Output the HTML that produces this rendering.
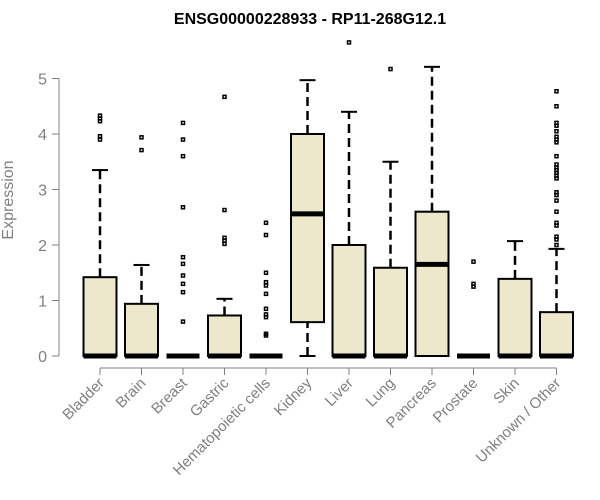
<!DOCTYPE html>
<html><head><meta charset="utf-8"><style>body{margin:0;background:#fff}svg{display:block}</style></head>
<body>
<svg id="chart" width="600" height="500" xmlns="http://www.w3.org/2000/svg" font-family="Liberation Sans, sans-serif">
<text x="310" y="24" text-anchor="middle" font-weight="bold" font-size="16">ENSG00000228933 - RP11-268G12.1</text>
<text transform="translate(13,200) rotate(-90)" text-anchor="middle" font-size="16" fill="#808080">Expression</text>
<g id="plot"></g>
</svg>
<script>
const categories=["Bladder","Brain","Breast","Gastric","Hematopoietic cells","Kidney","Liver","Lung","Pancreas","Prostate","Skin","Unknown / Other"];
const lowerWhisker=[0,0,0,0,0,0,0,0,0,0,0,0];
const q1=[0,0,0,0,0,0.61,0,0,0,0,0,0];
const median=[0,0,0,0,0,2.56,0,0,1.65,0,0,0];
const q3=[1.42,0.94,0,0.73,0,4.0,2.0,1.59,2.6,0,1.39,0.79];
const upperWhisker=[3.35,1.64,0,1.03,0,4.97,4.4,3.5,5.21,0,2.07,1.93];
const outliers=[[4.33,4.28,4.23,3.96,3.9],[3.94,3.71],[4.2,3.9,3.6,2.68,1.78,1.66,1.45,1.3,1.15,0.62],[4.67,2.63,2.13,2.08,2.02],[2.4,2.18,1.5,1.33,1.27,1.12,0.85,0.75,0.7,0.4,0.37],[],[5.65],[5.17],[],[1.7,1.3,1.25],[],[4.77,4.5,4.2,4.15,4.05,3.95,3.9,3.85,3.6,3.45,3.4,3.35,3.3,3.25,3.2,2.95,2.9,2.8,2.6,2.4,2.35,2.15,2.1,2.0]];
const yTicks=[0,1,2,3,4,5];
const NS="http://www.w3.org/2000/svg";
const g=document.getElementById("plot");
const yS=v=>356-v*55.5;
const xS=i=>100+i*41.5;
function mk(t,a,p){const e=document.createElementNS(NS,t);for(const k in a)e.setAttribute(k,a[k]);(p||g).appendChild(e);return e;}
let ya=mk("line",{x1:59,x2:59,y1:yS(0),y2:yS(5),stroke:"#808080"});


yTicks.forEach(v=>{
 let t=mk("line",{x1:52,x2:59,y1:yS(v),y2:yS(v),stroke:"#808080"});
 
 
 let l=mk("text",{x:47,y:yS(v)+6,"text-anchor":"end","font-size":16,fill:"#808080"});
 l.textContent=v;
 
 
});
let xa=mk("line",{x1:xS(0),x2:xS(categories.length-1),y1:368,y2:368,stroke:"#808080"});


categories.forEach((c,i)=>{
 const x=xS(i),hw=16.5;
 let t=mk("line",{x1:x,x2:x,y1:368,y2:375,stroke:"#808080"});
 
 
 let l=mk("text",{transform:`translate(${x+5},${384}) rotate(-45)`,"text-anchor":"end","font-size":15,fill:"#808080"});
 l.textContent=c;
 
 
 const grp=mk("g",{});
 
 
 if(upperWhisker[i]>q3[i]){
  mk("line",{x1:x,x2:x,y1:yS(q3[i]),y2:yS(upperWhisker[i]),stroke:"#000","stroke-width":2.5,"stroke-dasharray":"9,5"},grp);
  mk("line",{x1:x-8,x2:x+8,y1:yS(upperWhisker[i]),y2:yS(upperWhisker[i]),stroke:"#000","stroke-width":2},grp);
 }
 if(q1[i]>lowerWhisker[i]){
  mk("line",{x1:x,x2:x,y1:yS(lowerWhisker[i]),y2:yS(q1[i]),stroke:"#000","stroke-width":2.5,"stroke-dasharray":"9,5"},grp);
  mk("line",{x1:x-8,x2:x+8,y1:yS(lowerWhisker[i]),y2:yS(lowerWhisker[i]),stroke:"#000","stroke-width":2},grp);
 }
 mk("rect",{x:x-hw,y:yS(q3[i]),width:2*hw,height:Math.max(0,yS(q1[i])-yS(q3[i])),fill:"#ede7cc",stroke:"#000","stroke-width":2},grp);
 mk("line",{x1:x-hw,x2:x+hw,y1:yS(median[i]),y2:yS(median[i]),stroke:"#000","stroke-width":5},grp);
 outliers[i].forEach(v=>{
  mk("rect",{x:x-1.5,y:yS(v)-1.5,width:3,height:3,fill:"none",stroke:"#000","stroke-width":1.5},grp);
 });
});
</script>
</body></html>
